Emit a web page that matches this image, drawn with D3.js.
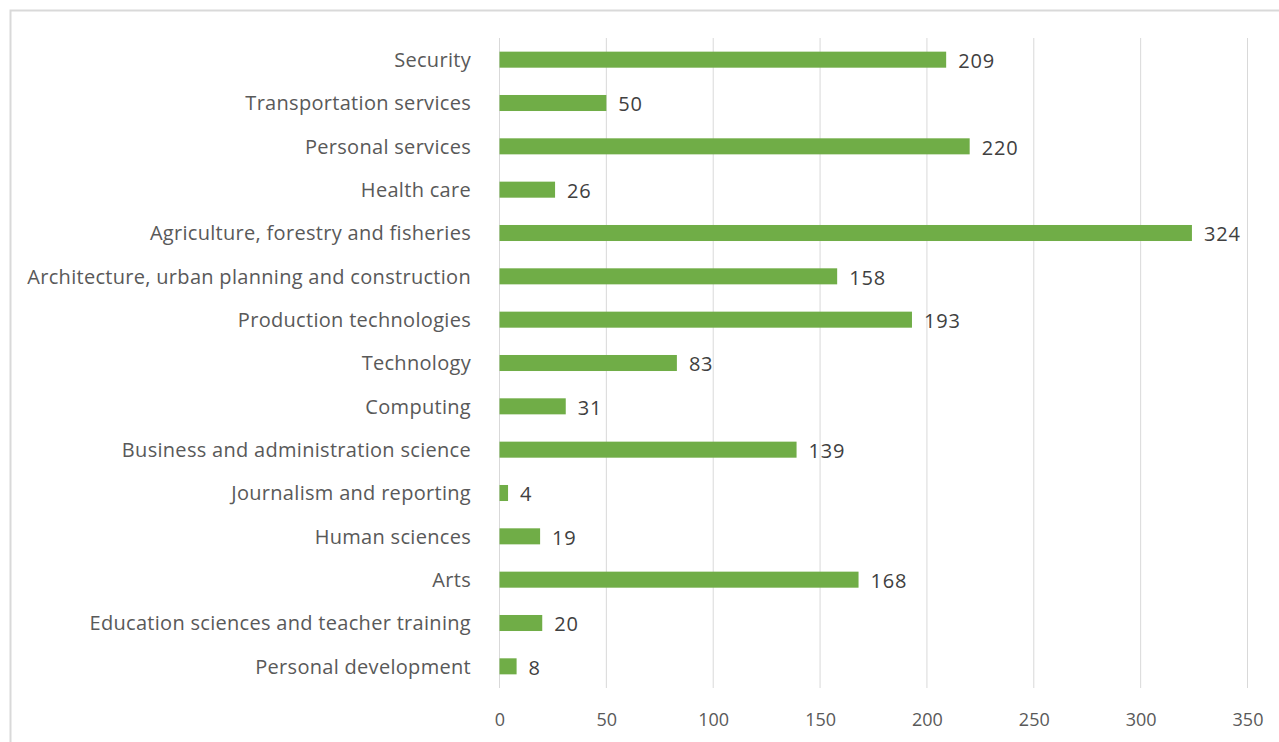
<!DOCTYPE html>
<html>
<head>
<meta charset="utf-8">
<script src="https://cdn.jsdelivr.net/npm/d3@7"></script>
<style>
  body { margin: 0; background: #fff; }
  text { font-family: "Open Sans", Lato, sans-serif; }
</style>
</head>
<body>
<div id="chart"></div>
<script>
var width = 1279,
    height = 742;

var categories = ["Security", "Transportation services", "Personal services", "Health care",
  "Agriculture, forestry and fisheries", "Architecture, urban planning and construction",
  "Production technologies", "Technology", "Computing", "Business and administration science",
  "Journalism and reporting", "Human sciences", "Arts",
  "Education sciences and teacher training", "Personal development"];
var values = [209, 50, 220, 26, 324, 158, 193, 83, 31, 139, 4, 19, 168, 20, 8];
var ticks = [0, 50, 100, 150, 200, 250, 300, 350];

var svg = d3.select("#chart").append("svg")
    .attr("width", width)
    .attr("height", height)

// chart border
svg.append("rect")
    .attr("x", 10.5).attr("y", 10.5)
    .attr("width", 1300).attr("height", 800)
    .attr("fill", "none")
    .attr("stroke", "#d9d9d9")
    .attr("stroke-width", 2)

var x = d3.scaleLinear().domain([0, 350]).range([499.5, 1247.5])
var y = d3.scaleBand().domain(categories).range([38, 688]).paddingInner(0.63).paddingOuter(0.315)

/* gridlines */
svg.selectAll("line.grid")
    .data(ticks)
  .enter().append("line")
    .attr("class", "grid")
    .attr("x1", function(d){return x(d)})
    .attr("x2", function(d){return x(d)})
    .attr("y1", 38)
    .attr("y2", 688)
    .attr("stroke", "#d9d9d9")
    .attr("stroke-width", 1)

/* bars */
svg.selectAll("rect.bar")
    .data(values)
  .enter().append("rect")
    .attr("class", "bar")
    .attr("x", x(0))
    .attr("y", function(d, i){return y(categories[i])})
    .attr("width", function(d){return x(d) - x(0)})
    .attr("height", y.bandwidth())
    .attr("fill", "#70ad47")

/* value labels */
svg.selectAll("text.val")
    .data(values)
  .enter().append("text")
    .attr("class", "val")
    .attr("x", function(d){return x(d) + 12})
    .attr("y", function(d, i){return y(categories[i]) + y.bandwidth() / 2 + 1})
    .attr("dy", "0.36em")
    .attr("fill", "#404040")
    .style("font-size", "20px")
    .style("letter-spacing", "0.8px")
    .text(function(d){return d})

/* category labels */
svg.selectAll("text.cat")
    .data(categories)
  .enter().append("text")
    .attr("class", "cat")
    .attr("x", 471)
    .attr("y", function(d){return y(d) + y.bandwidth() / 2})
    .attr("dy", "0.36em")
    .attr("text-anchor", "end")
    .attr("fill", "#595959")
    .style("font-size", "20px")
    .style("letter-spacing", "0.3px")
    .text(function(d){return d})

/* x axis labels */
var axis = svg.append("g")
    .attr("transform", "translate(0,713)")
    .call(d3.axisBottom(x).tickValues(ticks).tickSize(0).tickPadding(0))
axis.select(".domain").remove()
axis.selectAll("text")
    .attr("fill", "#595959")
    .style("font-family", "'Open Sans', Lato, sans-serif")
    .style("font-size", "18px")
</script>
</body>
</html>
